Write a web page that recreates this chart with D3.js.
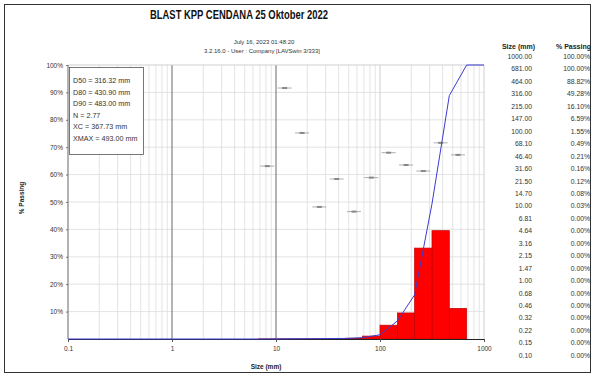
<!DOCTYPE html>
<html><head><meta charset="utf-8">
<script src="https://cdn.jsdelivr.net/npm/d3@7"></script>
<style>
html,body{margin:0;padding:0;background:#fff;}
svg{display:block;font-family:"Liberation Sans Narrow","Arial Narrow","Liberation Sans",Arial,sans-serif;}
</style></head>
<body>
<svg id="c" width="596" height="378"></svg>
<script>
// ---- data ----
const title = "BLAST KPP CENDANA 25 Oktober 2022";
const subtitle1 = "July 16, 2023 01:48:20";
const subtitle2 = "3.2.16.0  -  User :  Company [LAVSwin 3/333]";
const sizes = [1000, 681, 464, 316, 215, 147, 100, 68.1, 46.4, 31.6, 21.5, 14.7, 10, 6.81, 4.64, 3.16, 2.15, 1.47, 1.00, 0.68, 0.46, 0.32, 0.22, 0.15, 0.10];
const sizeLabels = ["1000.00","681.00","464.00","316.00","215.00","147.00","100.00","68.10","46.40","31.60","21.50","14.70","10.00","6.81","4.64","3.16","2.15","1.47","1.00","0.68","0.46","0.32","0.22","0.15","0.10"];
const passing = [100.00, 100.00, 88.82, 49.28, 16.10, 6.59, 1.55, 0.49, 0.21, 0.16, 0.12, 0.08, 0.03, 0, 0, 0, 0, 0, 0, 0, 0, 0, 0, 0, 0];
const statsLines = ["D50 = 316.32 mm", "D80 = 430.90 mm", "D90 = 483.00 mm", "N = 2.77", "XC = 367.73 mm", "XMAX = 493.00 mm"];
const markerSizes = [8.25, 12.1, 17.8, 26.1, 38.3, 56.2, 82.5, 121, 178, 261, 383, 562];
const markerPct = [63.1, 91.6, 75.2, 48.2, 58.4, 46.5, 58.9, 68.0, 63.5, 61.3, 71.6, 67.2];
const xTicks = [0.1, 1, 10, 100, 1000];
const yTicks = [10, 20, 30, 40, 50, 60, 70, 80, 90, 100];

// ---- drawing ----
const svg = d3.select("#c");
const L = 68, R = 484, T = 65, B = 339;
const x = d3.scaleLog().domain([0.1, 1000]).range([L, R]);
const y = d3.scaleLinear().domain([0, 100]).range([B, T]);

// outer border
svg.append("rect").attr("x", 4.5).attr("y", 4.5).attr("width", 586).attr("height", 368)
  .attr("fill", "none").attr("stroke", "#333").attr("stroke-width", 1);

// title
svg.append("text").attr("x", 239).attr("y", 19).attr("text-anchor", "middle")
  .attr("font-size", 12).attr("font-weight", "bold").attr("fill", "#111")
  .attr("textLength", 178).attr("lengthAdjust", "spacingAndGlyphs").text(title);
svg.append("text").attr("x", 264).attr("y", 44).attr("text-anchor", "middle")
  .attr("font-size", 6).attr("fill", "#333").text(subtitle1);
svg.append("text").attr("x", 262).attr("y", 53).attr("text-anchor", "middle")
  .attr("font-size", 6).attr("fill", "#333").text(subtitle2);

// minor vertical grid
const minor = [];
for (let e = -1; e < 3; e++) for (let m = 2; m <= 9; m++) minor.push(m * Math.pow(10, e));
const g = svg.append("g");
g.selectAll("line.vmin").data(minor).join("line")
  .attr("x1", d => x(d)).attr("x2", d => x(d)).attr("y1", T).attr("y2", B)
  .attr("stroke", "#dcdcdc").attr("stroke-width", 0.8);
// horizontal grid
g.selectAll("line.h").data(yTicks.slice(0, -1)).join("line")
  .attr("x1", L).attr("x2", R).attr("y1", d => y(d)).attr("y2", d => y(d))
  .attr("stroke", "#dcdcdc").attr("stroke-width", 0.8);
// decade lines
g.selectAll("line.dec").data([1, 10, 100, 1000]).join("line")
  .attr("x1", d => x(d)).attr("x2", d => x(d)).attr("y1", T).attr("y2", B)
  .attr("stroke", d => (d === 1 || d === 10) ? "#6a6a6a" : "#cfcfcf").attr("stroke-width", 1);
// frame
svg.append("line").attr("x1", L).attr("x2", R).attr("y1", T).attr("y2", T).attr("stroke", "#cfcfcf");
svg.append("line").attr("x1", L).attr("x2", L).attr("y1", T).attr("y2", B).attr("stroke", "#666");

// bars (retained between consecutive sieve sizes)
const bins = [];
for (let i = 0; i < sizes.length - 1; i++) {
  const v = passing[i] - passing[i + 1];
  if (v > 0) bins.push({hi: sizes[i], lo: sizes[i + 1], v});
}
svg.append("g").selectAll("rect").data(bins).join("rect")
  .attr("x", d => x(d.lo)).attr("width", d => x(d.hi) - x(d.lo))
  .attr("y", d => y(d.v)).attr("height", d => y(0) - y(d.v))
  .attr("fill", "#ff0000").attr("stroke", "#c00000").attr("stroke-width", 0.7);

// markers
const mk = svg.append("g").selectAll("g").data(markerSizes.map((s, i) => ({s, p: markerPct[i]}))).join("g")
  .attr("transform", d => `translate(${x(d.s)},${y(d.p)})`);
mk.append("line").attr("x1", -7).attr("x2", 7).attr("y1", 0).attr("y2", 0).attr("stroke", "#999").attr("stroke-width", 0.8);
mk.append("rect").attr("x", -2.5).attr("y", -1).attr("width", 5).attr("height", 2).attr("fill", "#888");

// bottom axis
const xa = svg.append("g").attr("transform", `translate(0,${B})`)
  .call(d3.axisBottom(x).tickValues(xTicks).tickFormat(d => String(d)).tickSize(3));
xa.select(".domain").attr("stroke", "#222");
xa.selectAll("text").attr("font-size", 6.5).attr("fill", "#333").attr("dy", "0.9em");
xa.selectAll(".tick line").attr("stroke", "#555");

// left axis
const ya = svg.append("g").attr("transform", `translate(${L},0)`)
  .call(d3.axisLeft(y).tickValues(yTicks).tickFormat(d => d + "%").tickSize(2));
ya.select(".domain").remove();
ya.selectAll("text").attr("font-size", 6.5).attr("fill", "#333");
ya.selectAll(".tick line").attr("stroke", "#777");

// cumulative line
const pts = sizes.map((s, i) => [s, passing[i]]).reverse();
svg.append("path").datum(pts)
  .attr("d", d3.line().x(d => x(d[0])).y(d => y(d[1])))
  .attr("fill", "none").attr("stroke", "#3c3ccf").attr("stroke-width", 1);

// axis titles
svg.append("text").attr("x", 266).attr("y", 369).attr("text-anchor", "middle")
  .attr("font-size", 6.5).attr("font-weight", "bold").attr("fill", "#222").text("Size (mm)");
svg.append("text").attr("transform", "translate(24,198) rotate(-90)").attr("text-anchor", "middle")
  .attr("font-size", 6.5).attr("font-weight", "bold").attr("fill", "#222").text("% Passing");

// stats box
svg.append("rect").attr("x", 69.5).attr("y", 67.5).attr("width", 74).attr("height", 87)
  .attr("fill", "#fff").attr("stroke", "#555").attr("stroke-width", 0.8);
svg.append("g").selectAll("text").data(statsLines).join("text")
  .attr("x", 73).attr("y", (d, i) => 83 + i * 11.6)
  .attr("font-size", 7.2).attr("fill", "#333").text(d => d);

// table
svg.append("text").attr("x", 535).attr("y", 49).attr("text-anchor", "end")
  .attr("font-size", 7).attr("font-weight", "bold").attr("fill", "#222").text("Size (mm)");
svg.append("text").attr("x", 591).attr("y", 49).attr("text-anchor", "end")
  .attr("font-size", 7).attr("font-weight", "bold").attr("fill", "#222").text("% Passing");
const rows = svg.append("g").selectAll("g").data(sizeLabels.map((s, i) => ({s, p: passing[i]}))).join("g")
  .attr("transform", (d, i) => `translate(0,${59 + i * 12.45})`);
rows.append("text").attr("x", 532).attr("text-anchor", "end").attr("font-size", 6.8).attr("fill", "#333").text(d => d.s);
rows.append("text").attr("x", 590).attr("text-anchor", "end").attr("font-size", 6.8).attr("fill", "#333").text(d => d.p.toFixed(2) + "%");
</script>
</body></html>
